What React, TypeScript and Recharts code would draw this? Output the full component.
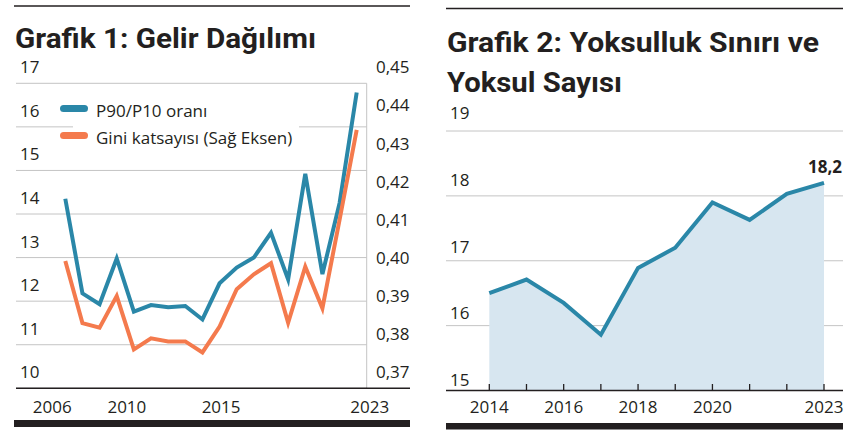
import React from 'react';
import {
  ComposedChart,
  Line,
  Area,
  XAxis,
  YAxis,
  CartesianGrid,
  Legend,
  LabelList,
} from 'recharts';

// ---------- Chart 1 data ----------
const YEARS_1 = [2006, 2007, 2008, 2009, 2010, 2011, 2012, 2013, 2014, 2015, 2016, 2017, 2018, 2019, 2020, 2021, 2022, 2023];
const P90_P10 = [14.35, 12.18, 11.93, 12.98, 11.76, 11.91, 11.86, 11.89, 11.58, 12.41, 12.77, 13.0, 13.57, 12.5, 14.92, 12.62, 14.25, 16.79];
const GINI = [0.4034, 0.3871, 0.3859, 0.3942, 0.3802, 0.3831, 0.3823, 0.3823, 0.3794, 0.3862, 0.396, 0.3999, 0.4028, 0.3872, 0.4019, 0.391, 0.4142, 0.4378];
const X_TICKS_1 = [2006, 2010, 2015, 2023];
const LEFT_TICKS_1 = [10, 11, 12, 13, 14, 15, 16, 17];
const RIGHT_TICKS_1 = [0.37, 0.38, 0.39, 0.4, 0.41, 0.42, 0.43, 0.44, 0.45];
const SERIES_NAMES_1 = ['P90/P10 oranı', 'Gini katsayısı (Sağ Eksen)'];

// ---------- Chart 2 data ----------
const YEARS_2 = [2014, 2015, 2016, 2017, 2018, 2019, 2020, 2021, 2022, 2023];
const POOR = [16.5, 16.71, 16.35, 15.86, 16.89, 17.2, 17.9, 17.63, 18.03, 18.2];
const X_LABELS_2 = [2014, 2016, 2018, 2020, 2023];
const Y_TICKS_2 = [15, 16, 17, 18, 19];

const TITLE_1 = 'Grafik 1: Gelir Dağılımı';
const TITLE_2A = 'Grafik 2: Yoksulluk Sınırı ve';
const TITLE_2B = 'Yoksul Sayısı';

const data1 = YEARS_1.map((year, i) => ({ year, p90: P90_P10[i], gini: GINI[i] }));
const data2 = YEARS_2.map((year, i) => ({ year, v: POOR[i] }));

const BLUE = '#2a87a8';
const ORANGE = '#f47a4d';
const FILL = '#d7e6f0';
const GRID = '#c4c4c4';
const INK = '#231f20';
const FONT = "'Open Sans', 'Noto Sans', sans-serif";
const TITLE_FONT = "Roboto, 'Open Sans', sans-serif";

const fmtComma = (v: number, d: number) => v.toFixed(d).replace('.', ',');

// --- ticks chart 1 ---
const LeftTick1 = (props: any) => {
  const { y, payload } = props;
  return (
    <text x={20} y={y - 16 + 6} fontSize={17} fill={INK} fontFamily={FONT} textAnchor="start">
      {payload.value}
    </text>
  );
};

const RightTick1 = (props: any) => {
  const { y, payload } = props;
  return (
    <text x={376} y={y - 16 + 6} fontSize={17} fill={INK} fontFamily={FONT} textAnchor="start">
      {fmtComma(payload.value, 2)}
    </text>
  );
};

const X1_DX = [-13, -7, 1.5, 13];
const XTick1 = (props: any) => {
  const { x, y, payload, index } = props;
  const dx = X1_DX[index] ?? 0;
  return (
    <text x={x + dx} y={y + 17} fontSize={17} fill={INK} fontFamily={FONT} textAnchor="middle">
      {payload.value}
    </text>
  );
};

// --- ticks chart 2 ---
const LeftTick2 = (props: any) => {
  const { y, payload } = props;
  const off = 10.7 + 1.75 * (payload.value - 15);
  return (
    <text x={20} y={y - off + 6} fontSize={17} fill={INK} fontFamily={FONT} textAnchor="start">
      {payload.value}
    </text>
  );
};

const XTick2 = (props: any) => {
  const { x, y, payload } = props;
  const axisY = y - 8;
  const show = X_LABELS_2.includes(payload.value);
  return (
    <g>
      <line x1={x} x2={x} y1={axisY} y2={axisY - 6.5} stroke={INK} strokeWidth={1.3} />
      {show && (
        <text x={x} y={axisY + 22.5} fontSize={17} fill={INK} fontFamily={FONT} textAnchor="middle">
          {payload.value}
        </text>
      )}
    </g>
  );
};

const LastLabel = (props: any) => {
  const { x, y, index, value } = props;
  if (index !== POOR.length - 1) return null;
  return (
    <text x={x + 1} y={y - 10} fontSize={17} fontWeight={700} fill={INK} fontFamily={FONT} textAnchor="middle">
      {fmtComma(value, 1)}
    </text>
  );
};

const LegendContent1 = (props: any) => {
  const payload = ([...(props.payload || [])] as any[]).sort(
    (a, b) => SERIES_NAMES_1.indexOf(a.value) - SERIES_NAMES_1.indexOf(b.value)
  );
  return (
    <div style={{ position: 'relative', width: 240, height: 56 }}>
      <div style={{ position: 'absolute', left: 13, top: 0, width: 226, height: 54, background: '#fff' }} />
      {payload.map((p, i) => (
        <div
          key={i}
          style={{
            position: 'absolute',
            left: 0,
            top: i * 27,
            height: 27,
            display: 'flex',
            alignItems: 'center',
            whiteSpace: 'nowrap',
          }}
        >
          <div style={{ width: 28, height: 7, borderRadius: 4, background: p.color, marginRight: 8 }} />
          <span style={{ fontFamily: FONT, fontSize: 17, color: INK, paddingTop: 4, lineHeight: '27px' }}>{p.value}</span>
        </div>
      ))}
    </div>
  );
};

export default function App() {
  return (
    <div style={{ position: 'absolute', left: 0, top: 0, width: 850, height: 433, background: '#fff', overflow: 'hidden' }}>
      {/* Chart 1 */}
      <div style={{ position: 'absolute', left: 0, top: 0 }}>
        <ComposedChart width={420} height={433} data={data1} margin={{ top: 83.3, right: 10, bottom: 14.7, left: 12 }}>
          <CartesianGrid yAxisId="left" horizontal vertical={false} stroke={GRID} strokeWidth={1} />
          <XAxis
            dataKey="year"
            type="number"
            domain={[2006, 2023]}
            ticks={X_TICKS_1}
            interval={0}
            padding={{ left: 49.3, right: 10 }}
            axisLine={{ stroke: INK, strokeWidth: 1.5 }}
            tickLine={false}
            tickSize={6}
            tickMargin={2}
            height={30}
            tick={<XTick1 />}
          />
          <YAxis
            yAxisId="left"
            orientation="left"
            domain={[10, 17]}
            ticks={LEFT_TICKS_1}
            interval={0}
            width={4}
            axisLine={false}
            tickLine={false}
            tick={<LeftTick1 />}
          />
          <YAxis
            yAxisId="right"
            orientation="right"
            domain={[0.37, 0.45]}
            ticks={RIGHT_TICKS_1}
            interval={0}
            width={43.3}
            axisLine={{ stroke: GRID, strokeWidth: 1 }}
            tickLine={false}
            tick={<RightTick1 />}
          />
          <Legend
            verticalAlign="middle"
            align="center"
            layout="horizontal"
            itemSorter={null as any}
            content={<LegendContent1 />}
            wrapperStyle={{ position: 'absolute', left: 60, top: 94.5, width: 240, height: 56 }}
          />
          <Line
            yAxisId="left"
            type="linear"
            dataKey="p90"
            name={SERIES_NAMES_1[0]}
            stroke={BLUE}
            strokeWidth={4}
            dot={false}
            activeDot={false}
            isAnimationActive={false}
          />
          <Line
            yAxisId="right"
            type="linear"
            dataKey="gini"
            name={SERIES_NAMES_1[1]}
            stroke={ORANGE}
            strokeWidth={4}
            dot={false}
            activeDot={false}
            isAnimationActive={false}
          />
        </ComposedChart>
      </div>

      {/* Chart 2 */}
      <div style={{ position: 'absolute', left: 430, top: 0 }}>
        <ComposedChart width={420} height={433} data={data2} margin={{ top: 131, right: 7, bottom: 12.5, left: 12 }}>
          <CartesianGrid horizontal vertical={false} stroke={GRID} strokeWidth={1} />
          <XAxis
            dataKey="year"
            type="number"
            domain={[2014, 2023]}
            ticks={YEARS_2}
            interval={0}
            padding={{ left: 43.3, right: 19 }}
            axisLine={{ stroke: INK, strokeWidth: 1.5 }}
            tickLine={false}
            tickSize={6}
            tickMargin={2}
            height={30}
            tick={<XTick2 />}
          />
          <YAxis
            domain={[15, 19]}
            ticks={Y_TICKS_2}
            interval={0}
            width={4}
            axisLine={false}
            tickLine={false}
            tick={<LeftTick2 />}
          />
          <Area
            type="linear"
            dataKey="v"
            stroke={BLUE}
            strokeWidth={4}
            fill={FILL}
            fillOpacity={1}
            dot={false}
            activeDot={false}
            isAnimationActive={false}
          >
            <LabelList dataKey="v" content={<LastLabel />} />
          </Area>
        </ComposedChart>
      </div>

      {/* Frame, titles */}
      <svg width={850} height={433} style={{ position: 'absolute', left: 0, top: 0, pointerEvents: 'none' }}>
        <line x1={14} x2={410} y1={6} y2={6} stroke={INK} strokeWidth={1.3} />
        <line x1={446} x2={843} y1={8.5} y2={8.5} stroke={INK} strokeWidth={1.3} />
        <text x={15} y={48.3} fontFamily={TITLE_FONT} fontWeight={700} fontSize={28} fill={INK} textLength={301} lengthAdjust="spacingAndGlyphs">
          {TITLE_1}
        </text>
        <text x={447} y={51.7} fontFamily={TITLE_FONT} fontWeight={700} fontSize={28} fill={INK} textLength={372} lengthAdjust="spacingAndGlyphs">
          {TITLE_2A}
        </text>
        <text x={447} y={91.7} fontFamily={TITLE_FONT} fontWeight={700} fontSize={28} fill={INK} textLength={175} lengthAdjust="spacingAndGlyphs">
          {TITLE_2B}
        </text>
        <line x1={366} x2={410} y1={388.3} y2={388.3} stroke={INK} strokeWidth={1.5} />
        <rect x={14} y={420} width={396} height={7} fill={INK} />
        <rect x={446} y={423} width={397} height={6.5} fill={INK} />
      </svg>
    </div>
  );
}
